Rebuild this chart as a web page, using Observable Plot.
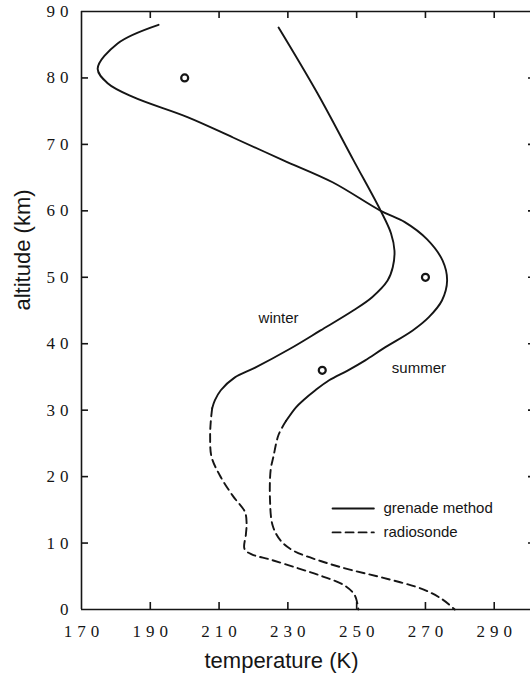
<!DOCTYPE html>
<html><head><meta charset="utf-8">
<script src="https://cdn.jsdelivr.net/npm/d3@7"></script>
<script src="https://cdn.jsdelivr.net/npm/@observablehq/plot@0.6"></script>
<style>
html,body{margin:0;padding:0;background:#fff;overflow:hidden;}
g[aria-label="x-axis tick label"] text, g[aria-label="y-axis tick label"] text{letter-spacing:5px;}
</style></head><body><div id="chart"></div>
<script>
// ---- data ----
const xTickValues = [170, 190, 210, 230, 250, 270, 290];
const yTickValues = [0, 10, 20, 30, 40, 50, 60, 70, 80, 90];
const xInnerTicks = [190, 210, 230, 250, 270, 290];
const yInnerTicks = [10, 20, 30, 40, 50, 60, 70, 80];

// summer profile (grenade method, solid)
const summerGrenadeTemp = [192.4, 180.5, 174.7, 177.6, 185.1, 200.8, 214.2, 228.7, 243.0, 257.0, 264.0, 270.5, 275.0, 276.3, 274.8, 271.0, 266.3, 257.8, 252.5, 247.5, 242.0, 238.0, 234.5, 232.3, 229.5];
const summerGrenadeAlt  = [88.0, 85.2, 81.4, 79.2, 77.1, 74.1, 71.0, 67.6, 64.3, 60.0, 58.3, 55.7, 52.5, 49.5, 46.5, 44.0, 42.0, 39.3, 37.5, 36.0, 34.5, 33.0, 31.5, 30.4, 28.4];
// summer profile (radiosonde, dashed)
const summerSondeTemp = [229.5, 227.3, 225.8, 225.0, 224.8, 225.6, 228.0, 231.8, 239.5, 248.0, 257.5, 269.5, 275.0, 278.5];
const summerSondeAlt  = [28.4, 26.3, 23.0, 21.0, 16.6, 12.6, 10.3, 8.8, 7.3, 6.0, 4.8, 3.0, 1.5, 0];
// winter profile (grenade method, solid)
const winterGrenadeTemp = [227.3, 238.6, 249.1, 257.0, 260.0, 261.0, 260.5, 259.0, 254.5, 249.0, 239.5, 230.5, 220.5, 214.5, 210.5, 208.8, 208.0];
const winterGrenadeAlt  = [87.6, 77.7, 67.6, 60.0, 56.6, 54.0, 51.5, 49.5, 47.0, 45.0, 42.0, 39.2, 36.4, 34.9, 33.0, 31.5, 30.3];
// winter profile (radiosonde, dashed)
const winterSondeTemp = [208.0, 207.6, 207.4, 207.8, 210.2, 214.0, 217.5, 218.0, 217.8, 217.4, 219.5, 225.0, 233.0, 240.0, 246.5, 249.5, 250.5];
const winterSondeAlt  = [30.3, 28.4, 26.0, 23.0, 20.2, 17.1, 14.7, 13.0, 11.3, 9.1, 8.3, 7.5, 6.2, 5.0, 3.6, 2.1, 0];
// observed points (circles)
const pointTemp = [200, 270, 240];
const pointAlt  = [80, 50, 36];
// season labels
const seasonNames = ["winter", "summer"];
const seasonLabelTemp = [227.3, 268.1];
const seasonLabelAlt  = [43.9, 36.3];
// legend
const legendNames = ["grenade method", "radiosonde"];
const legendAlt = [15.2, 11.6];
const legendLineTemp = [243, 255];
const legendTextTemp = 257.8;

// ---- build ----
const rows = (xs, ys) => xs.map((x, i) => ({x, y: ys[i]}));
const W = 535, H = 679, mL = 81, mT = 11, mB = 70, mR = 0;
const plotW = W - mL - mR, plotH = H - mT - mB;
const ink = "#151515";
const tick = 7;

const legendLines = legendNames.flatMap((name, i) => legendLineTemp.map(x => ({name, x, y: legendAlt[i]})));

const chart = Plot.plot({
  width: W, height: H,
  marginLeft: mL, marginRight: mR, marginTop: mT, marginBottom: mB,
  style: {maxWidth: "none", background: "#fff", color: ink},
  x: {domain: [170, 302]},
  y: {domain: [0, 90]},
  marks: [
    Plot.ruleX([170], {stroke: ink, strokeWidth: 1.6}),
    Plot.ruleY([0, 90], {stroke: ink, strokeWidth: 1.6}),
    Plot.ruleX(xInnerTicks, {insetTop: plotH - tick, stroke: ink, strokeWidth: 1.6}),
    Plot.ruleX(xInnerTicks, {insetBottom: plotH - tick, stroke: ink, strokeWidth: 1.6}),
    Plot.ruleY(yInnerTicks, {insetRight: plotW - tick, stroke: ink, strokeWidth: 1.6}),
    Plot.ruleY(yInnerTicks, {insetLeft: plotW - tick, stroke: ink, strokeWidth: 1.6}),
    Plot.axisX(xTickValues, {tickSize: 0, tickPadding: 15, fontSize: 17, fontFamily: "Liberation Serif", dx: 2.5, label: null, color: ink}),
    Plot.axisY(yTickValues, {tickSize: 0, tickPadding: 8, fontSize: 17, fontFamily: "Liberation Serif", label: null, color: ink}),
    Plot.line(rows(summerGrenadeTemp, summerGrenadeAlt), {x: "x", y: "y", curve: "catmull-rom", stroke: ink, strokeWidth: 1.9}),
    Plot.line(rows(summerSondeTemp, summerSondeAlt), {x: "x", y: "y", curve: "catmull-rom", stroke: ink, strokeWidth: 1.9, strokeDasharray: "8,5"}),
    Plot.line(rows(winterGrenadeTemp, winterGrenadeAlt), {x: "x", y: "y", curve: "catmull-rom", stroke: ink, strokeWidth: 1.9}),
    Plot.line(rows(winterSondeTemp, winterSondeAlt), {x: "x", y: "y", curve: "catmull-rom", stroke: ink, strokeWidth: 1.9, strokeDasharray: "8,5"}),
    Plot.dot(rows(pointTemp, pointAlt), {x: "x", y: "y", r: 3.5, stroke: ink, strokeWidth: 2.2, fill: "#fff"}),
    Plot.text(seasonNames, {x: (d, i) => seasonLabelTemp[i], y: (d, i) => seasonLabelAlt[i], text: d => d, fontSize: 15, fontFamily: "Liberation Sans", fill: ink}),
    Plot.line(legendLines.filter(d => d.name === legendNames[0]), {x: "x", y: "y", stroke: ink, strokeWidth: 1.9}),
    Plot.line(legendLines.filter(d => d.name === legendNames[1]), {x: "x", y: "y", stroke: ink, strokeWidth: 1.9, strokeDasharray: "8,5"}),
    Plot.text(legendNames, {x: legendTextTemp, y: (d, i) => legendAlt[i], text: d => d, textAnchor: "start", fontSize: 15, fontFamily: "Liberation Sans", fill: ink}),
    Plot.text(["temperature (K)"], {frameAnchor: "bottom", dy: 58, dx: -27, text: d => d, fontSize: 22, fontFamily: "Liberation Sans", fill: ink}),
    Plot.text(["altitude (km)"], {frameAnchor: "left", dx: -59, rotate: -90, text: d => d, fontSize: 22, fontFamily: "Liberation Sans", fill: ink})
  ]
});
document.getElementById("chart").appendChild(chart);
</script></body></html>
